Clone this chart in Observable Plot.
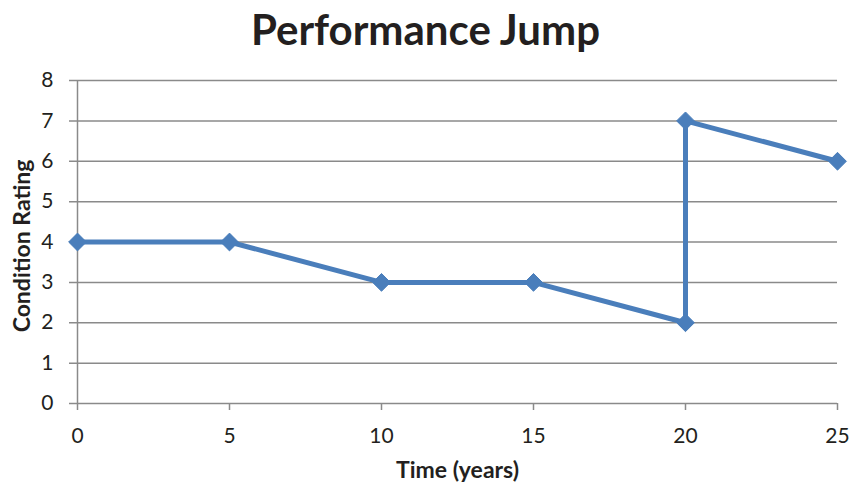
<!DOCTYPE html>
<html>
<head>
<meta charset="utf-8">
<script src="https://cdn.jsdelivr.net/npm/d3@7"></script>
<script src="https://cdn.jsdelivr.net/npm/@observablehq/plot@0.6"></script>
<style>
  html, body { margin: 0; padding: 0; background: #fff; }
  #title {
    height: 60px; line-height: 58px; text-align: center;
    font-family: Lato, "Open Sans", sans-serif; font-weight: bold;
    font-size: 42px; color: #231f20; width: 851px;
  }
</style>
</head>
<body>
<div id="title">Performance Jump</div>
<div id="chart"></div>
<script>
// Condition rating over time; the jump at year 20 appears as two points at x = 20
const years = [0, 5, 10, 15, 20, 20, 25];
const ratings = [4, 4, 3, 3, 2, 7, 6];
const xTicks = [0, 5, 10, 15, 20, 25];
const yTicks = [0, 1, 2, 3, 4, 5, 6, 7, 8];

const data = years.map((t, i) => ({t, r: ratings[i]}));
const lineColor = "#4a7ebb";
const gray = "#8a8a8a";
const font = "Lato, 'Open Sans', sans-serif";

const chart = Plot.plot({
  width: 851,
  height: 427,
  marginTop: 20,
  marginBottom: 84,
  marginLeft: 77,
  marginRight: 14,
  style: {fontFamily: font, fontSize: "20px", color: "#231f20", background: "#fff"},
  x: {domain: [0, 25], ticks: xTicks, label: null},
  y: {domain: [0, 8], ticks: yTicks, label: null},
  marks: [
    Plot.ruleY(yTicks, {y: d => d, stroke: gray, strokeWidth: 1.5, insetLeft: -8}),
    Plot.ruleX([0], {stroke: gray, strokeWidth: 1.5}),
    Plot.axisY({ticks: yTicks, tickSize: 0, tickPadding: 24, fontSize: 21, label: null}),
    Plot.axisX({ticks: xTicks, tickSize: 7, stroke: gray, strokeWidth: 1.5, tickPadding: 18, fontSize: 21, label: null}),
    Plot.line(data, {x: "t", y: "r", stroke: lineColor, strokeWidth: 5}),
    Plot.dot(data, {x: "t", y: "r", symbol: "diamond2", r: 8, fill: lineColor, stroke: lineColor, strokeWidth: 1}),
    Plot.text(["Time (years)"], {frameAnchor: "bottom", dy: 74, fontWeight: "bold", fontSize: 23}),
    Plot.text(["Condition Rating"], {frameAnchor: "left", textAnchor: "middle", dx: -55, dy: 4, rotate: -90, fontWeight: "bold", fontSize: 23})
  ]
});
document.getElementById("chart").append(chart);
</script>
</body>
</html>
